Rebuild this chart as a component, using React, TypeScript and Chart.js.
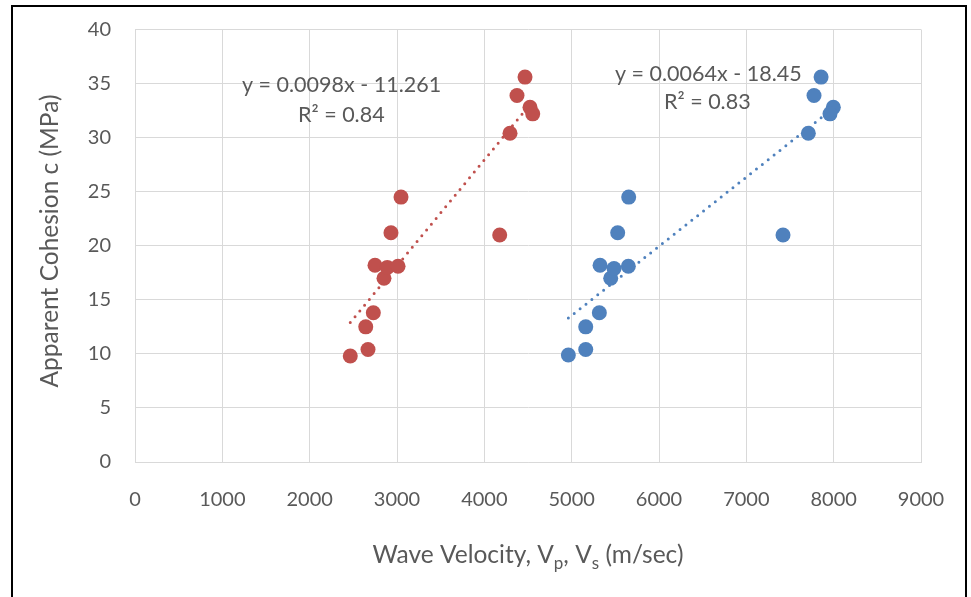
import React, { useEffect, useRef } from "react";
import { Chart, registerables } from "chart.js";

Chart.register(...registerables);

// Red series (Vs) — wave velocity (m/sec) vs apparent cohesion (MPa)
const redX = [2465, 2668, 2642, 2729, 2851, 2748, 2889, 3012, 2931, 3046, 4176, 4466, 4374, 4523, 4554, 4294];
const redY = [9.8, 10.4, 12.5, 13.8, 17.0, 18.2, 18.0, 18.1, 21.2, 24.5, 21.0, 35.6, 33.9, 32.8, 32.2, 30.4];
// Blue series (Vp)
const blueX = [4962, 5161, 5161, 5317, 5447, 5325, 5485, 5649, 5527, 5653, 7420, 7856, 7775, 7996, 7958, 7710];
const blueY = [9.9, 10.4, 12.5, 13.8, 17.0, 18.2, 17.9, 18.1, 21.2, 24.5, 21.0, 35.6, 33.9, 32.8, 32.2, 30.4];

// Linear trend coefficients (as printed on the chart)
const redSlope = 0.0098;
const redIntercept = -11.261;
const blueSlope = 0.0064;
const blueIntercept = -18.45;

const redEq = ["y = 0.0098x - 11.261", "R² = 0.84"];
const blueEq = ["y = 0.0064x - 18.45", "R² = 0.83"];

const RED = "#C0504D";
const BLUE = "#4F81BD";
const TEXT = "#595959";
const FONT = "Lato, 'Open Sans', sans-serif";

function trend(xs: number[], m: number, b: number) {
  const lo = Math.min(...xs);
  const hi = Math.max(...xs);
  return [
    { x: lo, y: m * lo + b },
    { x: hi, y: m * hi + b },
  ];
}

export default function App() {
  const ref = useRef<HTMLCanvasElement | null>(null);

  useEffect(() => {
    if (!ref.current) return;
    const textPlugin = {
      id: "texts",
      afterDraw(chart: any) {
        const ctx = chart.ctx as CanvasRenderingContext2D;
        ctx.save();
        // outer frame
        ctx.strokeStyle = "#000";
        ctx.lineWidth = 2;
        ctx.strokeRect(12, 6, 954, 700);
        ctx.fillStyle = TEXT;
        ctx.textBaseline = "alphabetic";
        ctx.textAlign = "left";
        ctx.font = `21.5px ${FONT}`;
        ctx.fillText(redEq[0], 242, 92);
        ctx.fillText(redEq[1], 298, 121.5);
        ctx.fillText(blueEq[0], 615, 81);
        ctx.fillText(blueEq[1], 664, 109);

        // x axis title with subscripts
        const big = `24.5px ${FONT}`;
        const small = `17px ${FONT}`;
        const parts: [string, boolean][] = [
          ["Wave Velocity, V", false],
          ["p", true],
          [", V", false],
          ["s", true],
          [" (m/sec)", false],
        ];
        let total = 0;
        for (const [t, sub] of parts) {
          ctx.font = sub ? small : big;
          total += ctx.measureText(t).width;
        }
        let x = 528 - total / 2;
        for (const [t, sub] of parts) {
          ctx.font = sub ? small : big;
          ctx.fillText(t, x, sub ? 569 : 563);
          x += ctx.measureText(t).width;
        }

        // y axis title
        ctx.translate(58, 241);
        ctx.rotate(-Math.PI / 2);
        ctx.textAlign = "center";
        ctx.font = big;
        ctx.fillText("Apparent Cohesion c (MPa)", 0, 0);
        ctx.restore();
      },
    };

    const chart = new Chart(ref.current, {
      type: "scatter",
      data: {
        datasets: [
          {
            label: "Vs",
            data: redX.map((x, i) => ({ x, y: redY[i] })),
            backgroundColor: RED,
            borderColor: RED,
            pointRadius: 7.5,
            pointBorderWidth: 0,
          },
          {
            label: "Vp",
            data: blueX.map((x, i) => ({ x, y: blueY[i] })),
            backgroundColor: BLUE,
            borderColor: BLUE,
            pointRadius: 7.5,
            pointBorderWidth: 0,
          },
          {
            type: "line",
            label: "Vs trend",
            data: trend(redX, redSlope, redIntercept),
            borderColor: RED,
            borderWidth: 3,
            borderDash: [0, 7.5],
            borderCapStyle: "round",
            pointRadius: 0,
            fill: false,
          } as any,
          {
            type: "line",
            label: "Vp trend",
            data: trend(blueX, blueSlope, blueIntercept),
            borderColor: BLUE,
            borderWidth: 3,
            borderDash: [0, 7.5],
            borderCapStyle: "round",
            pointRadius: 0,
            fill: false,
          } as any,
        ],
      },
      options: {
        responsive: false,
        animation: false,
        layout: { padding: { top: 29.5, right: 50, left: 0, bottom: 0 } },
        plugins: {
          legend: { display: false },
          tooltip: { enabled: false },
          title: { display: false },
        },
        scales: {
          x: {
            type: "linear",
            min: 0,
            max: 9000,
            ticks: {
              stepSize: 1000,
              color: TEXT,
              font: { family: FONT, size: 20 },
              padding: 26,
              maxRotation: 0,
              callback: (v: any) => String(v),
            },
            grid: { color: "#d9d9d9", lineWidth: 1, drawTicks: false },
            border: { display: true, color: "#d9d9d9" },
            afterFit(scale: any) {
              scale.height = 135;
            },
          },
          y: {
            min: 0,
            max: 40,
            ticks: {
              stepSize: 5,
              color: TEXT,
              font: { family: FONT, size: 20 },
              padding: 24,
              callback: (v: any) => String(v),
            },
            grid: { color: "#d9d9d9", lineWidth: 1, drawTicks: false },
            border: { display: true, color: "#d9d9d9" },
            afterFit(scale: any) {
              scale.width = 135;
              scale.paddingTop = 0;
              scale.paddingBottom = 0;
            },
          },
        },
      },
      plugins: [textPlugin],
    } as any);
    return () => chart.destroy();
  }, []);

  return (
    <div style={{ position: "fixed", left: 0, top: 0, width: 971, height: 597, background: "#fff" }}>
      <canvas ref={ref} width={971} height={597} style={{ width: 971, height: 597, display: "block" }} />
    </div>
  );
}
